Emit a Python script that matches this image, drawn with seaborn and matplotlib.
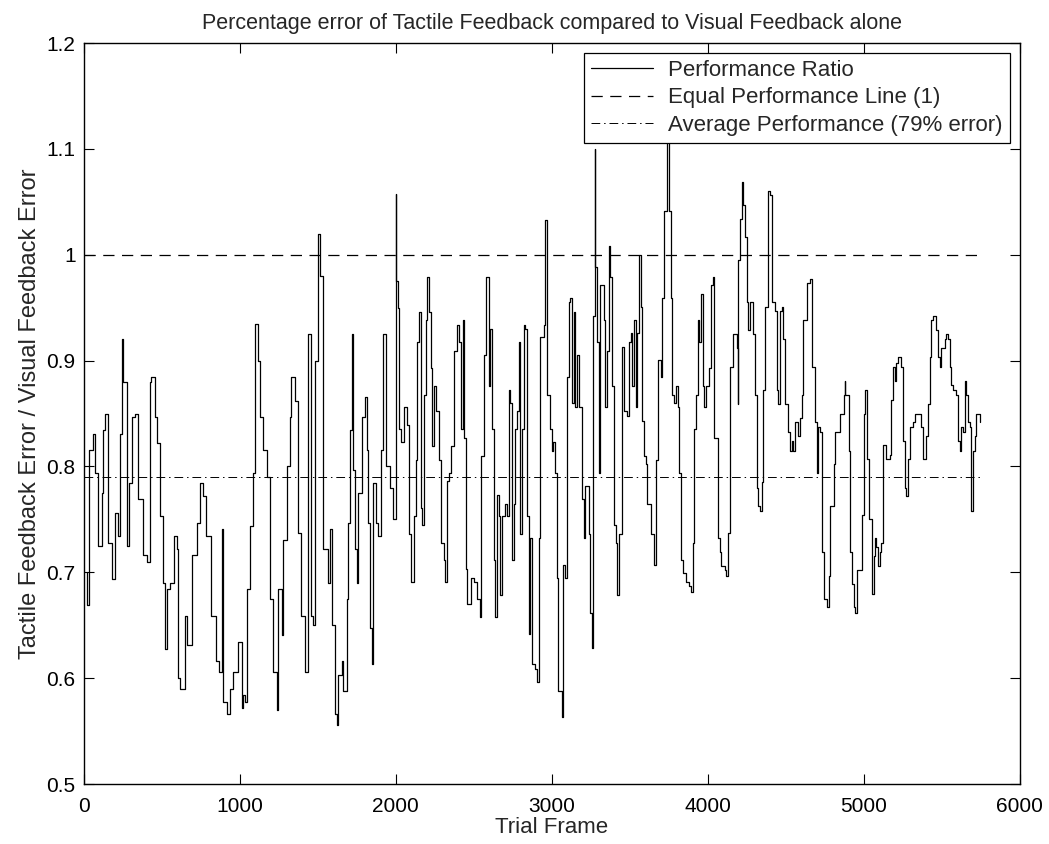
import matplotlib
matplotlib.use("Agg")
import matplotlib.pyplot as plt
import seaborn as sns
import pandas as pd

# ---- data ----
frames = [
    17, 21, 34, 60, 70, 92, 113, 124, 135, 156, 177, 199, 220, 231, 245, 252, 274, 291, 306, 327,
    348, 380, 402, 423, 430, 455, 466, 487, 509, 519, 530, 551, 579, 594, 605, 615, 648, 658, 690, 722,
    744, 765, 782, 818, 850, 868, 883, 893, 915, 936, 957, 989, 1011, 1021,
    1032, 1043, 1064, 1085, 1096, 1118, 1128, 1150, 1171, 1192, 1214, 1239, 1246, 1267, 1278, 1299,
    1321, 1331, 1353, 1374, 1395, 1417, 1438, 1459, 1470, 1481, 1502, 1513, 1534, 1566, 1577, 1588,
    1609, 1620, 1630, 1652, 1662, 1684, 1695, 1705, 1716, 1727, 1737, 1748, 1759, 1780, 1801, 1812,
    1823, 1833, 1848, 1855, 1876, 1887, 1908, 1919, 1940, 1962, 1985, 1998,
    2001, 2004, 2011, 2021, 2032, 2053, 2074, 2085, 2100, 2117, 2128, 2138, 2149, 2160, 2170, 2181,
    2191, 2198, 2213, 2223, 2234, 2245, 2255, 2277, 2287, 2309, 2313, 2326, 2340, 2351, 2372, 2394,
    2404, 2415, 2432, 2436, 2447, 2458, 2479, 2500, 2521, 2538, 2547, 2564, 2581, 2596, 2606, 2617,
    2628, 2638, 2649, 2660, 2670, 2681, 2702, 2713, 2723, 2734, 2745, 2755, 2766, 2777, 2787, 2798,
    2809, 2819, 2830, 2840, 2851, 2862, 2872, 2894, 2904, 2915, 2926, 2947, 2958, 2968, 2972, 2989,
    3000, 3011, 3021, 3032, 3043, 3064,
    3075, 3086, 3097, 3108, 3118, 3129, 3140, 3151, 3161, 3172, 3183, 3194, 3204, 3215, 3237, 3247,
    3258, 3262, 3275, 3280, 3290, 3301, 3312, 3333, 3344, 3355, 3366, 3376, 3387, 3398, 3409, 3419,
    3430, 3452, 3462, 3484, 3495, 3505, 3516, 3527, 3538, 3548, 3559, 3570, 3581, 3592, 3602, 3613,
    3635, 3656, 3667, 3678, 3699, 3710, 3721, 3736, 3753, 3764, 3774, 3785, 3796, 3807, 3817, 3828,
    3839, 3860, 3882, 3893, 3903, 3914, 3925, 3936, 3946, 3957, 3968, 3979, 3989, 4011, 4022, 4032,
    4043, 4065,
    4077, 4088, 4109, 4120, 4131, 4142, 4163, 4185, 4191, 4195, 4206, 4217, 4227, 4238, 4249, 4260,
    4270, 4292, 4303, 4313, 4324, 4335, 4346, 4356, 4367, 4378, 4388, 4399, 4410, 4431, 4442, 4453,
    4464, 4474, 4485, 4496, 4517, 4528, 4539, 4549, 4560, 4582, 4592, 4603, 4614, 4635, 4657, 4667,
    4678, 4689, 4700, 4710, 4721, 4732, 4743, 4764, 4775, 4785, 4807, 4818, 4850, 4871, 4878, 4882,
    4903, 4914, 4925, 4936, 4946, 4957, 4979, 4989, 5000, 5011, 5021, 5032, 5054,
    5064, 5071, 5081, 5092, 5103, 5113, 5124, 5145, 5167, 5177, 5188, 5199, 5209, 5220, 5241, 5252,
    5263, 5274, 5284, 5295, 5316, 5327, 5348, 5370, 5380, 5391, 5402, 5412, 5423, 5434, 5444, 5466,
    5477, 5487, 5498, 5519, 5530, 5541, 5551, 5562, 5573, 5594, 5605, 5615, 5626, 5637, 5648, 5658,
    5669, 5680, 5690, 5701, 5712, 5722, 5733, 5744,
]

ratio = [
    0.700, 0.669, 0.816, 0.831, 0.794, 0.725, 0.775, 0.834, 0.850, 0.728, 0.694, 0.756, 0.734, 0.831, 0.920, 0.880, 0.725, 0.784, 0.847, 0.850,
    0.769, 0.716, 0.710, 0.880, 0.885, 0.847, 0.822, 0.753, 0.690, 0.628, 0.684, 0.690, 0.734, 0.722, 0.600, 0.590, 0.659, 0.631, 0.716, 0.747,
    0.784, 0.772, 0.734, 0.659, 0.616, 0.606, 0.741, 0.578, 0.566, 0.590, 0.606, 0.634, 0.572, 0.584,
    0.578, 0.684, 0.744, 0.794, 0.935, 0.900, 0.847, 0.816, 0.790, 0.675, 0.606, 0.570, 0.684, 0.641, 0.731, 0.800,
    0.847, 0.885, 0.862, 0.737, 0.659, 0.606, 0.925, 0.659, 0.650, 0.900, 1.020, 0.980, 0.722, 0.690, 0.741, 0.650,
    0.566, 0.556, 0.603, 0.616, 0.588, 0.675, 0.747, 0.834, 0.925, 0.797, 0.722, 0.690, 0.775, 0.847, 0.866, 0.816,
    0.747, 0.647, 0.613, 0.784, 0.747, 0.734, 0.816, 0.925, 0.800, 0.780, 0.750, 1.057,
    0.753, 0.975, 0.950, 0.835, 0.823, 0.856, 0.839, 0.736, 0.691, 0.753, 0.806, 0.918, 0.946, 0.761, 0.745, 0.868,
    0.938, 0.979, 0.946, 0.893, 0.819, 0.876, 0.852, 0.806, 0.728, 0.712, 0.691, 0.786, 0.794, 0.819, 0.909, 0.934,
    0.918, 0.835, 0.938, 0.827, 0.703, 0.670, 0.695, 0.691, 0.675, 0.658, 0.810, 0.905, 0.979, 0.876, 0.930, 0.835,
    0.712, 0.658, 0.773, 0.753, 0.679, 0.753, 0.765, 0.753, 0.872, 0.860, 0.712, 0.765, 0.835, 0.852, 0.918, 0.736,
    0.835, 0.934, 0.930, 0.753, 0.642, 0.732, 0.613, 0.609, 0.596, 0.732, 0.922, 0.934, 1.033, 0.988, 0.868, 0.835,
    0.815, 0.823, 0.794, 0.695, 0.588, 0.563,
    0.707, 0.695, 0.885, 0.955, 0.959, 0.860, 0.946, 0.856, 0.905, 0.856, 0.856, 0.769, 0.732, 0.782, 0.736, 0.662,
    0.629, 0.942, 1.100, 0.988, 0.918, 0.794, 0.971, 0.938, 0.856, 0.909, 1.008, 0.979, 0.876, 0.745, 0.728, 0.679,
    0.736, 0.913, 0.852, 0.848, 0.918, 0.926, 0.876, 0.938, 0.856, 0.926, 1.000, 0.951, 0.843, 0.810, 0.802, 0.765,
    0.736, 0.707, 0.806, 0.901, 0.885, 0.959, 1.041, 1.115, 1.041, 0.959, 0.868, 0.860, 0.876, 0.856, 0.794, 0.712,
    0.699, 0.691, 0.687, 0.681, 0.728, 0.835, 0.868, 0.938, 0.918, 0.963, 0.876, 0.856, 0.876, 0.893, 0.971, 0.979,
    0.827, 0.732,
    0.719, 0.706, 0.702, 0.697, 0.737, 0.894, 0.925, 0.912, 0.859, 0.995, 1.034, 1.069, 1.047, 1.017, 0.955, 0.929,
    0.955, 0.925, 0.868, 0.780, 0.763, 0.758, 0.785, 0.872, 0.951, 0.951, 1.060, 1.056, 0.955, 0.947, 0.872, 0.859,
    0.947, 0.951, 0.920, 0.859, 0.833, 0.815, 0.824, 0.815, 0.842, 0.829, 0.846, 0.868, 0.938, 0.973, 0.977, 0.894,
    0.894, 0.842, 0.794, 0.837, 0.833, 0.719, 0.675, 0.667, 0.697, 0.763, 0.802, 0.833, 0.850, 0.868, 0.881, 0.868,
    0.815, 0.719, 0.689, 0.667, 0.662, 0.702, 0.702, 0.754, 0.850, 0.872, 0.807, 0.750, 0.680,
    0.715, 0.732, 0.724, 0.706, 0.719, 0.728, 0.820, 0.807, 0.811, 0.863, 0.894, 0.881, 0.898, 0.903, 0.894, 0.824,
    0.780, 0.772, 0.807, 0.837, 0.842, 0.850, 0.850, 0.837, 0.807, 0.807, 0.829, 0.859, 0.903, 0.938, 0.942, 0.929,
    0.903, 0.894, 0.912, 0.920, 0.925, 0.920, 0.894, 0.877, 0.872, 0.868, 0.824, 0.815, 0.837, 0.833, 0.881, 0.868,
    0.842, 0.837, 0.758, 0.815, 0.829, 0.850, 0.850, 0.842,
]

equal_level = 1.0
average_level = 0.79

title = "Percentage error of Tactile Feedback compared to Visual Feedback alone"
xlabel = "Trial Frame"
ylabel = "Tactile Feedback Error / Visual Feedback Error"
legend_labels = ["Performance Ratio", "Equal Performance Line (1)",
                 "Average Performance (79% error)"]
xticks = [0, 1000, 2000, 3000, 4000, 5000, 6000]
yticks = [0.5, 0.6, 0.7, 0.8, 0.9, 1.0, 1.1, 1.2]
ytick_labels = ["0.5", "0.6", "0.7", "0.8", "0.9", "1", "1.1", "1.2"]

# ---- plotting ----
sns.set_style("ticks")
plt.rcParams["font.family"] = ["Liberation Sans", "DejaVu Sans"]

df = pd.DataFrame({"frame": frames, "ratio": ratio})

fig = plt.figure(figsize=(10.49, 8.44), dpi=100)
ax = fig.add_axes([0.080, 0.071, 0.892, 0.878])

sns.lineplot(data=df, x="frame", y="ratio", ax=ax, color="black", linewidth=0.9,
             estimator=None, sort=False, drawstyle="steps-post", label=legend_labels[0])
x_end = [0, frames[-1]]
sns.lineplot(x=x_end, y=[equal_level, equal_level], ax=ax, color="black",
             linewidth=0.9, linestyle=(0, (9, 6)), estimator=None, label=legend_labels[1])
sns.lineplot(x=x_end, y=[average_level, average_level], ax=ax, color="black",
             linewidth=0.7, linestyle=(0, (9, 4, 1.5, 4)), estimator=None, label=legend_labels[2])

ax.set_xlim(0, 6000)
ax.set_ylim(0.5, 1.2)
ax.set_xticks(xticks)
ax.set_xticklabels([str(t) for t in xticks])
ax.set_yticks(yticks)
ax.set_yticklabels(ytick_labels)
ax.tick_params(direction="in", top=True, right=True, length=7, width=0.8,
               labelsize=15, colors="black")
ax.tick_params(axis="x", pad=9)
ax.tick_params(axis="y", pad=6)
for s in ax.spines.values():
    s.set_visible(True)
    s.set_linewidth(1.0)
    s.set_color("black")

ax.set_title(title, fontsize=15.5, pad=10)
ax.set_xlabel(xlabel, fontsize=16, labelpad=1)
ax.set_ylabel(ylabel, fontsize=17, labelpad=4)

leg = ax.legend(loc="upper right", fontsize=16, frameon=True, fancybox=False,
                edgecolor="black", framealpha=1, borderpad=0.3, labelspacing=0.3,
                handlelength=2.8, handletextpad=0.7, borderaxespad=0.45)
leg.get_frame().set_linewidth(0.9)

fig.savefig("out.png", dpi=100)
